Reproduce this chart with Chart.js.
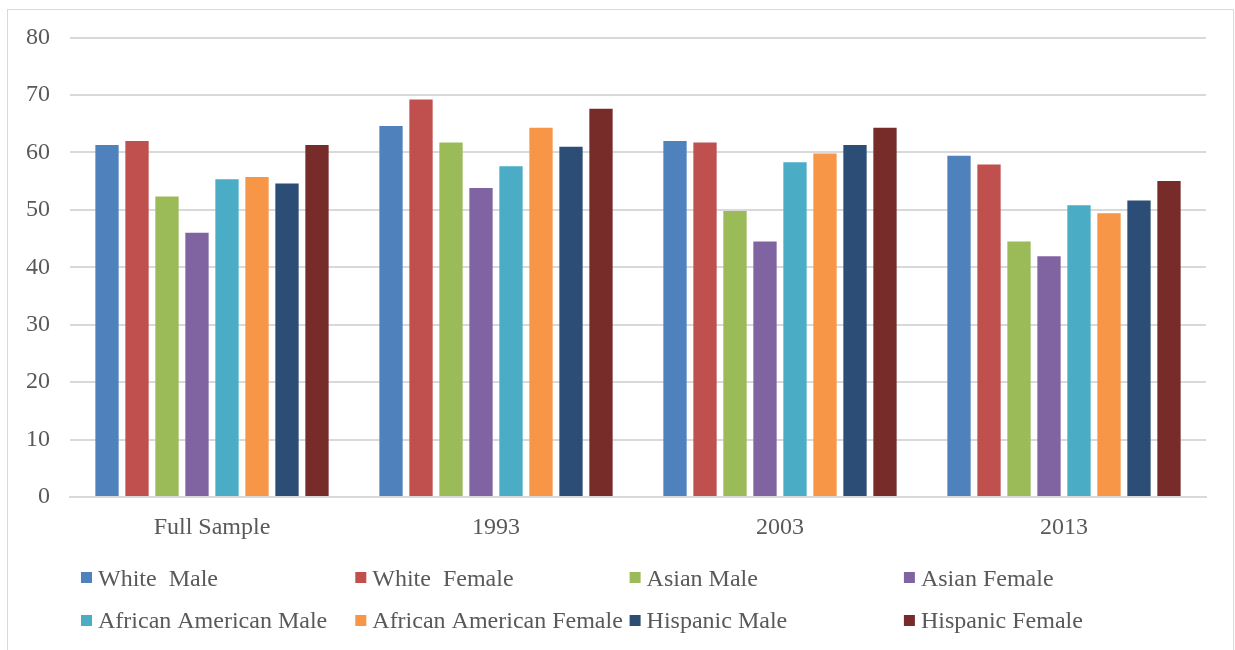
<!DOCTYPE html>
<html>
<head>
<meta charset="utf-8">
<script src="https://cdn.jsdelivr.net/npm/chart.js@4"></script>
<style>
  html, body { margin: 0; padding: 0; background: #ffffff; }
  #wrap { position: relative; width: 1235px; height: 650px; overflow: hidden; }
  #frame { position: absolute; left: 7px; top: 9px; width: 1225px; height: 700px; border: 1px solid #d9d9d9; box-sizing: content-box; }
  canvas { position: absolute; left: 0; top: 0; }
</style>
</head>
<body>
<div id="wrap">
  <div id="frame"></div>
  <canvas id="c" width="1235" height="650"></canvas>
</div>
<script>
const categories = ['Full Sample', '1993', '2003', '2013'];

const whiteMale = [61.3, 64.6, 62.0, 59.4];
const whiteFemale = [62.0, 69.2, 61.7, 57.9];
const asianMale = [52.3, 61.7, 49.8, 44.5];
const asianFemale = [46.0, 53.8, 44.5, 41.9];
const africanAmericanMale = [55.3, 57.6, 58.3, 50.8];
const africanAmericanFemale = [55.7, 64.3, 59.8, 49.4];
const hispanicMale = [54.6, 61.0, 61.3, 51.6];
const hispanicFemale = [61.3, 67.6, 64.3, 55.0];

const seriesNames = ['White  Male', 'White  Female', 'Asian Male', 'Asian Female',
  'African American Male', 'African American Female', 'Hispanic Male', 'Hispanic Female'];
const seriesValues = [whiteMale, whiteFemale, asianMale, asianFemale,
  africanAmericanMale, africanAmericanFemale, hispanicMale, hispanicFemale];
const seriesColors = ['#4F81BD', '#C0504D', '#9BBB59', '#8064A2',
  '#4BACC6', '#F79646', '#2C4D75', '#772C2A'];

const yTicks = [0, 10, 20, 30, 40, 50, 60, 70, 80];

const FONT = "'Liberation Serif', 'Times New Roman', serif";
const TEXT = '#595959';

const legendPlugin = {
  id: 'gridLegend',
  afterDraw(chart) {
    const ctx = chart.ctx;
    ctx.save();
    ctx.font = '24px ' + FONT;
    ctx.textBaseline = 'alphabetic';
    ctx.textAlign = 'left';
    chart.data.datasets.forEach((ds, i) => {
      const col = i % 4, row = Math.floor(i / 4);
      const sx = 81 + col * 274.3;
      const sy = 572 + row * 43;
      ctx.fillStyle = ds.backgroundColor;
      ctx.fillRect(sx, sy, 11, 11);
      ctx.fillStyle = TEXT;
      ctx.fillText(ds.label, sx + 17, 586 + row * 42);
    });
    ctx.restore();
  }
};

new Chart(document.getElementById('c'), {
  type: 'bar',
  data: {
    labels: categories,
    datasets: seriesNames.map((n, i) => ({
      label: n,
      data: seriesValues[i],
      backgroundColor: seriesColors[i],
      borderWidth: 0,
      categoryPercentage: 0.845,
      barPercentage: 0.777
    }))
  },
  options: {
    responsive: false,
    animation: false,
    devicePixelRatio: 1,
    layout: { padding: { top: 37.5, right: 29, left: 0, bottom: 0 } },
    plugins: { legend: { display: false }, tooltip: { enabled: false } },
    scales: {
      x: {
        grid: { display: false, drawTicks: false },
        border: { display: true, color: '#d9d9d9', width: 2 },
        ticks: { color: TEXT, font: { family: FONT, size: 24 }, padding: 16, maxRotation: 0 },
        afterFit(scale) { scale.height = 153; }
      },
      y: {
        min: 0, max: 80,
        afterBuildTicks(scale) { scale.ticks = yTicks.map(v => ({ value: v })); },
        grid: { color: '#d9d9d9', lineWidth: 2, drawTicks: false },
        border: { display: false },
        ticks: { color: TEXT, font: { family: FONT, size: 24 }, padding: 20 },
        afterFit(scale) { scale.width = 70; }
      }
    }
  },
  plugins: [legendPlugin]
});
</script>
</body>
</html>
